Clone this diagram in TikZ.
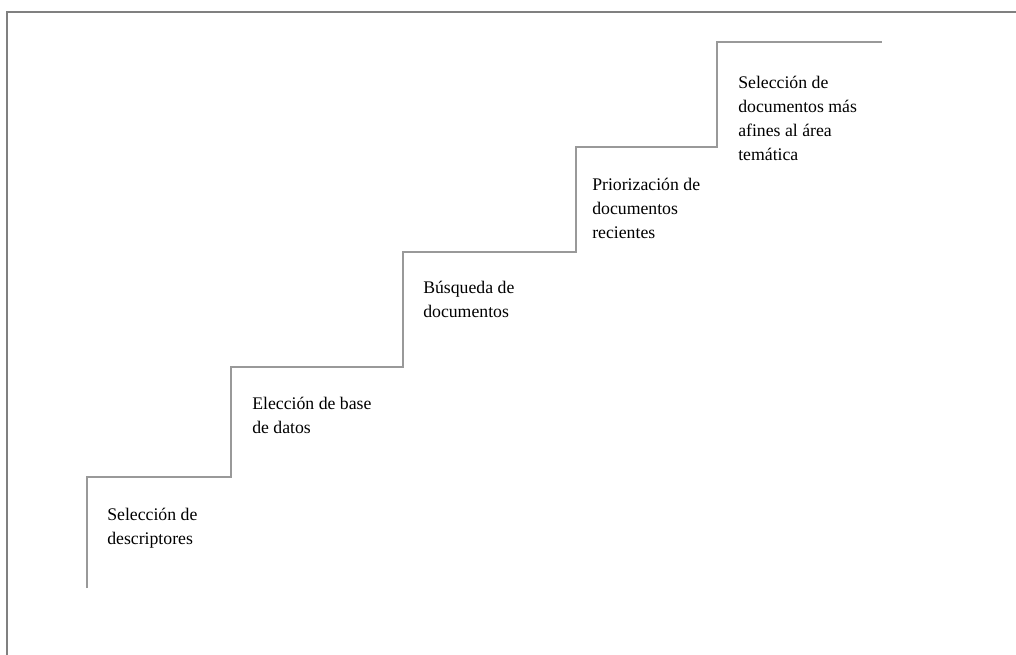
\documentclass[tikz,border=0pt]{standalone}
\usepackage{fontspec}
\setmainfont{Liberation Serif}
\begin{document}
\begin{tikzpicture}[x=0.75pt,y=-0.75pt,
  frameline/.style={draw=black!50,line width=2pt},
  stairline/.style={draw=black!40,line width=1.5pt},
  steplabel/.style={anchor=base west,inner sep=0pt,align=left,font=\fontsize{13.3}{18}\selectfont,text=black}]
\useasboundingbox (0,0) rectangle (1016,655);
\coordinate (ftl) at (7,12);
\coordinate (ftr) at (1016,12);
\coordinate (fbl) at (7,655);
\draw[frameline] (fbl) -- (ftl) -- (ftr);
\coordinate (s0) at (87,588);
\coordinate (s1) at (87,477);
\coordinate (s2) at (231,477);
\coordinate (s3) at (231,367);
\coordinate (s4) at (403,367);
\coordinate (s5) at (403,252);
\coordinate (s6) at (576,252);
\coordinate (s7) at (576,147);
\coordinate (s8) at (717,147);
\coordinate (s9) at (717,42);
\coordinate (s10) at (882,42);
\draw[stairline,line join=miter] (s0) -- (s1) -- (s2) -- (s3) -- (s4) -- (s5) -- (s6) -- (s7) -- (s8) -- (s9) -- (s10);
\node[steplabel] (t1) at (107,544) {Selección de\\descriptores};
\node[steplabel] (t2) at (252,433.5) {Elección de base\\de datos};
\node[steplabel] (t3) at (423,318) {Búsqueda de\\documentos};
\node[steplabel] (t4) at (592,238.5) {Priorización de\\documentos\\recientes};
\node[steplabel] (t5) at (738,161) {Selección de\\documentos más\\afines al área\\temática};
\end{tikzpicture}
\end{document}
